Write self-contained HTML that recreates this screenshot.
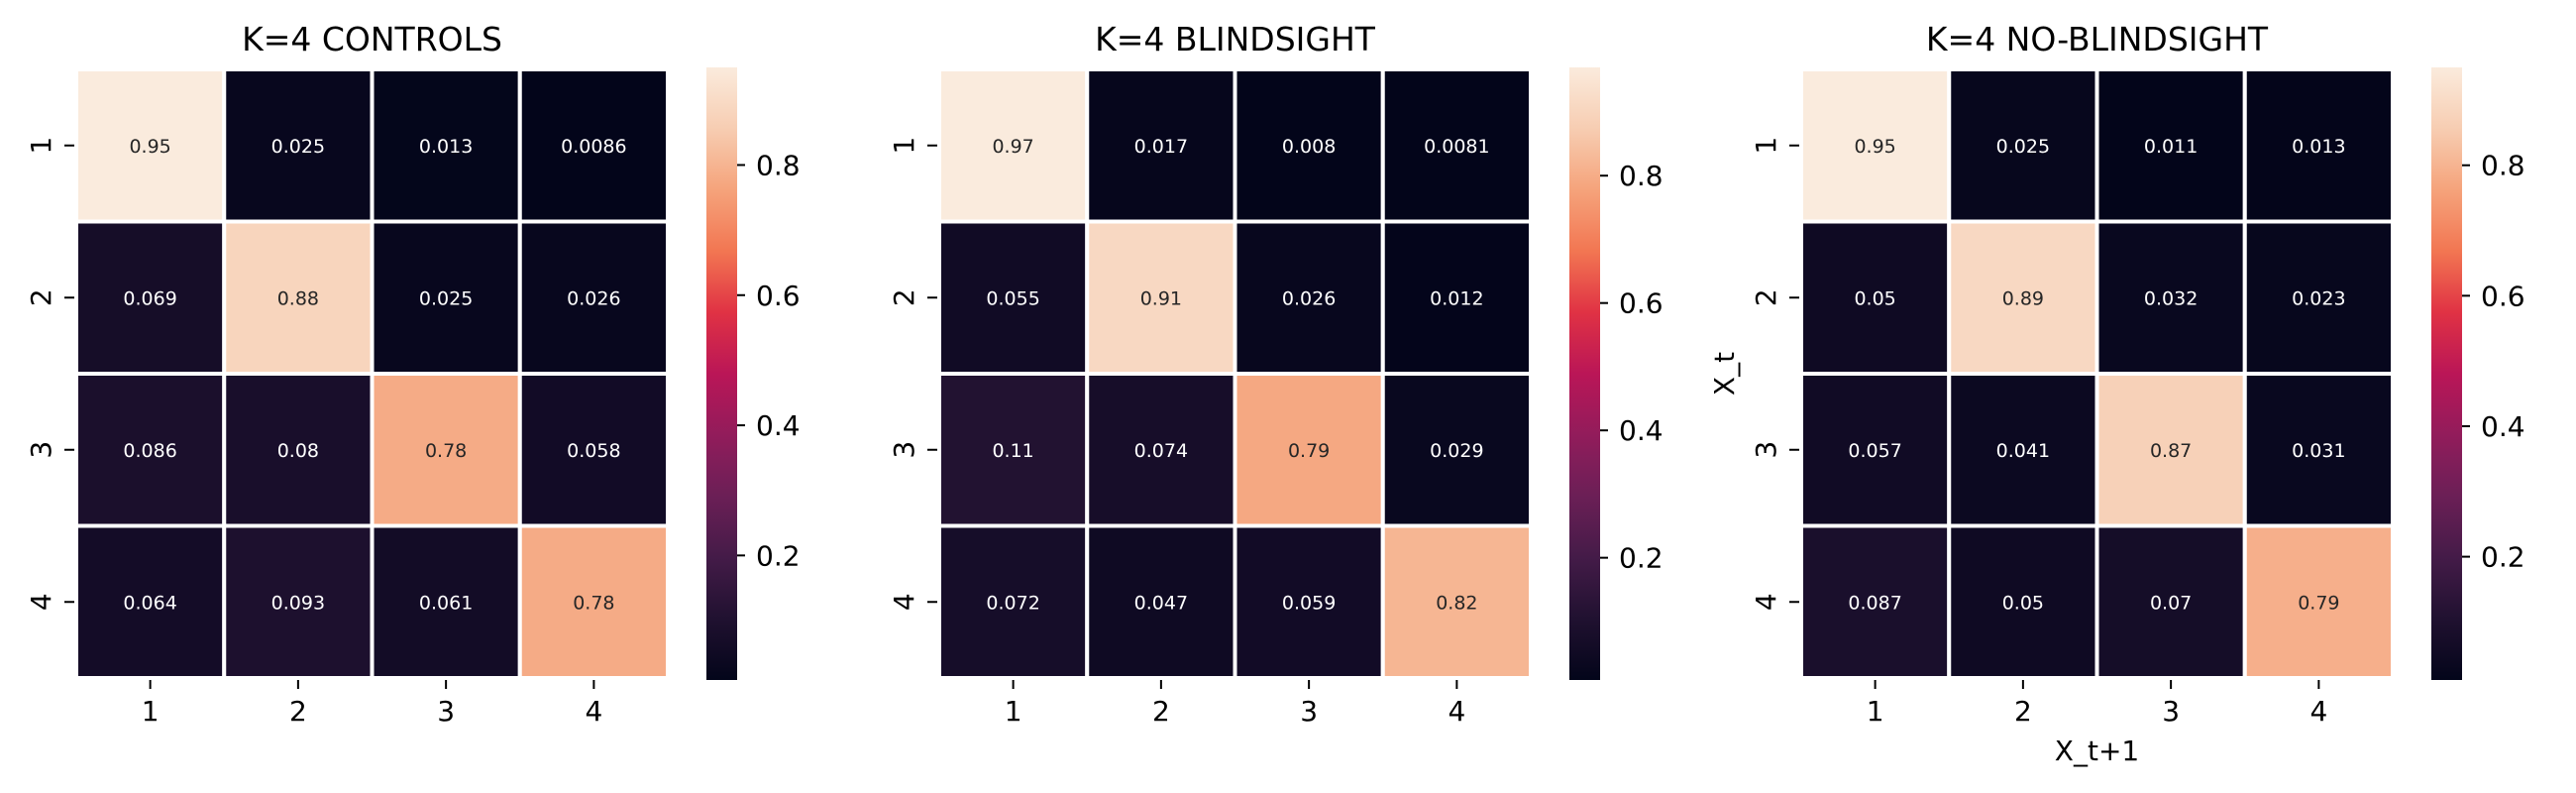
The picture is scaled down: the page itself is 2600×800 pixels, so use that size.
<!DOCTYPE html>
<html><head><meta charset="utf-8">
<style>
html,body{margin:0;padding:0;background:#fff;}
svg{display:block;font-family:"DejaVu Sans","Liberation Sans",sans-serif;}
</style></head>
<body>
<svg id="chart" width="2600" height="800" viewBox="0 0 2600 800" xmlns="http://www.w3.org/2000/svg">
<defs id="defs"></defs>
</svg>
<script>
const titles = ["K=4 CONTROLS", "K=4 BLINDSIGHT", "K=4 NO-BLINDSIGHT"];
const categories = ["1", "2", "3", "4"];
const controlsValues = [
  [0.95, 0.025, 0.013, 0.0086],
  [0.069, 0.88, 0.025, 0.026],
  [0.086, 0.08, 0.78, 0.058],
  [0.064, 0.093, 0.061, 0.78]
];
const blindsightValues = [
  [0.97, 0.017, 0.008, 0.0081],
  [0.055, 0.91, 0.026, 0.012],
  [0.11, 0.074, 0.79, 0.029],
  [0.072, 0.047, 0.059, 0.82]
];
const noBlindsightValues = [
  [0.95, 0.025, 0.011, 0.013],
  [0.05, 0.89, 0.032, 0.023],
  [0.057, 0.041, 0.87, 0.031],
  [0.087, 0.05, 0.07, 0.79]
];
const valueLabels = [
  [["0.95","0.025","0.013","0.0086"],["0.069","0.88","0.025","0.026"],["0.086","0.08","0.78","0.058"],["0.064","0.093","0.061","0.78"]],
  [["0.97","0.017","0.008","0.0081"],["0.055","0.91","0.026","0.012"],["0.11","0.074","0.79","0.029"],["0.072","0.047","0.059","0.82"]],
  [["0.95","0.025","0.011","0.013"],["0.05","0.89","0.032","0.023"],["0.057","0.041","0.87","0.031"],["0.087","0.05","0.07","0.79"]]
];
const colorbarTicks = [0.2, 0.4, 0.6, 0.8];
const colorbarTickLabels = ["0.2", "0.4", "0.6", "0.8"];
const allValues = [controlsValues, blindsightValues, noBlindsightValues];

const NS = "http://www.w3.org/2000/svg";
const svgRoot = document.getElementById("chart");
const defsEl = document.getElementById("defs");
const cstops = [
  [0.0,[3,5,26]],[0.1,[32,17,48]],[0.2,[68,27,72]],[0.3,[107,31,86]],
  [0.4,[146,28,91]],[0.5,[186,22,87]],[0.6,[224,50,68]],[0.7,[242,118,82]],
  [0.8,[245,163,123]],[0.9,[247,205,178]],[1.0,[250,235,221]]
];
function cmap(t){
  t=Math.max(0,Math.min(1,t));
  for(let i=0;i<cstops.length-1;i++){
    const a=cstops[i],b=cstops[i+1];
    if(t<=b[0]){const f=(t-a[0])/(b[0]-a[0]);
      const c=a[1].map((v,k)=>Math.round(v+(b[1][k]-v)*f));
      return `rgb(${c[0]},${c[1]},${c[2]})`;}
  }
  return "rgb(250,235,221)";
}
function mk(tag, attrs, text){
  const e=document.createElementNS(NS,tag);
  for(const k in attrs) e.setAttribute(k,attrs[k]);
  if(text!==undefined) e.textContent=text;
  return e;
}
const panelX=[77,948,1818];
const cbX=[713,1584,2454];
const plotTop=70, plotW=597, plotH=614, cbTop=68, cbBot=686, cbW=31;

allValues.forEach((vals,p)=>{
  const g=mk("g",{});
  
  
  svgRoot.appendChild(g);
  const flat=vals.flat();
  const vmin=Math.min(...flat), vmax=Math.max(...flat);
  const norm=v=>(v-vmin)/(vmax-vmin);
  const x0=panelX[p], n=categories.length, cw=plotW/n, ch=plotH/n;
  const xScale=j=>x0+j*cw;
  const yScale=i=>plotTop+i*ch;
  const t=mk("text",{x:x0+plotW/2,y:51,"text-anchor":"middle","font-size":33,fill:"#000"},titles[p]);
  
  
  g.appendChild(t);
  vals.forEach((row,i)=>row.forEach((v,j)=>{
    const r=mk("rect",{x:xScale(j),y:yScale(i),width:cw,height:ch,fill:cmap(norm(v)),stroke:"#fff","stroke-width":4});
    
    
    g.appendChild(r);
    const tx=mk("text",{x:xScale(j)+cw/2,y:yScale(i)+ch/2+7,"text-anchor":"middle","font-size":19,fill:norm(v)>0.6?"#262626":"#ffffff"},valueLabels[p][i][j]);
    
    
    g.appendChild(tx);
  }));
  g.appendChild(mk("rect",{x:x0-2,y:plotTop-2,width:plotW+4,height:plotH+4,fill:"none",stroke:"#fff","stroke-width":4}));
  categories.forEach((c,k)=>{
    const cx=xScale(k)+cw/2;
    g.appendChild(mk("line",{x1:cx,y1:plotTop+plotH+2,x2:cx,y2:plotTop+plotH+11,stroke:"#000","stroke-width":2}));
    const xl=mk("text",{x:cx,y:727,"text-anchor":"middle","font-size":28,fill:"#000"},c);
    
    
    g.appendChild(xl);
    const cy=yScale(k)+ch/2;
    g.appendChild(mk("line",{x1:x0-12,y1:cy,x2:x0-2,y2:cy,stroke:"#000","stroke-width":2}));
    const yl=mk("text",{x:0,y:0,"text-anchor":"middle","font-size":28,fill:"#000",transform:`translate(${x0-26},${cy}) rotate(-90)`},c);
    
    
    g.appendChild(yl);
  });
  const gid="cbgrad"+p;
  const lg=mk("linearGradient",{id:gid,x1:0,y1:1,x2:0,y2:0});
  for(let s=0;s<=20;s++){lg.appendChild(mk("stop",{offset:s/20,"stop-color":cmap(s/20)}));}
  defsEl.appendChild(lg);
  const cb=mk("rect",{x:cbX[p],y:cbTop,width:cbW,height:cbBot-cbTop,fill:`url(#${gid})`});
  
  
  g.appendChild(cb);
  const cbScale=v=>cbBot-(v-vmin)/(vmax-vmin)*(cbBot-cbTop);
  colorbarTicks.forEach((v,k)=>{
    const y=cbScale(v);
    g.appendChild(mk("line",{x1:cbX[p]+cbW,y1:y,x2:cbX[p]+cbW+8,y2:y,stroke:"#000","stroke-width":2}));
    const cl=mk("text",{x:cbX[p]+cbW+19,y:y+10,"font-size":28,fill:"#000"},colorbarTickLabels[k]);
    
    
    g.appendChild(cl);
  });
  if(p===2){
    const xt=mk("text",{x:x0+plotW/2,y:767,"text-anchor":"middle","font-size":28,fill:"#000"},"X_t+1");
    
    
    g.appendChild(xt);
    const yt=mk("text",{x:0,y:0,"text-anchor":"middle","font-size":28,fill:"#000",transform:`translate(${x0-68},${plotTop+plotH/2}) rotate(-90)`},"X_t");
    
    
    g.appendChild(yt);
  }
});
</script>
</body></html>
